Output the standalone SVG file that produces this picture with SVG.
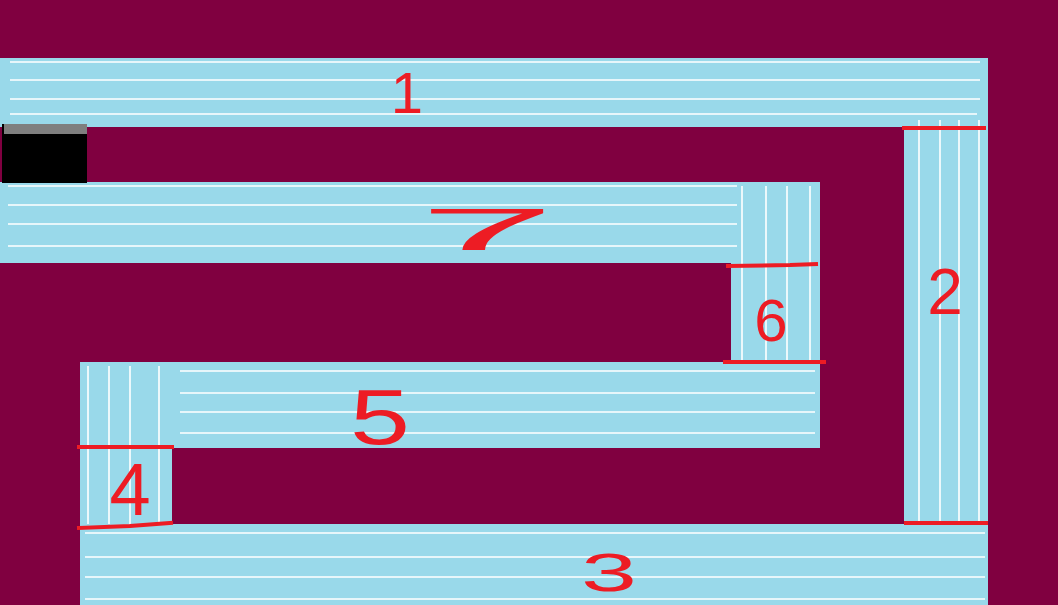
<svg xmlns="http://www.w3.org/2000/svg" width="1058" height="605" viewBox="0 0 1058 605">
<style>
.path{fill:#99d9ea}
.tex{stroke:#ffffff;stroke-width:1.6;fill:none}
.red{stroke:#ed1c24;stroke-width:4;fill:none;stroke-linecap:square}
.num{fill:#ed1c24;font-family:"Liberation Sans",Arial,sans-serif;text-anchor:middle}
</style>
<rect x="0" y="0" width="1058" height="605" fill="#800040"/>
<g id="track">
<rect class="path" x="0" y="58" width="988" height="69"/>
<rect class="path" x="904" y="58" width="84" height="466"/>
<rect class="path" x="80" y="524" width="908" height="81"/>
<rect class="path" x="80" y="362" width="92" height="164"/>
<rect class="path" x="80" y="362" width="740" height="86"/>
<rect class="path" x="731" y="182" width="89" height="180"/>
<rect class="path" x="0" y="182" width="820" height="81"/>
</g>
<g id="texture">
<path class="tex" d="M10 62H980M10 80H980M10 99H980M10 114H977"/>
<path class="tex" d="M919 120V522M940 120V522M959 120V522M979 120V522"/>
<path class="tex" d="M85 533H985M85 557H985M85 577H985M85 599H985"/>
<path class="tex" d="M88 366V524M109 366V524M130 366V524M159 366V524"/>
<path class="tex" d="M180 371H815M180 393H815M180 412H815M180 433H815"/>
<path class="tex" d="M742 186V360M766 186V360M787 186V360M810 186V360"/>
<path class="tex" d="M8 186H737M8 205H737M8 224H737M8 246H737"/>
</g>
<g id="start-box">
<rect x="2" y="124" width="85" height="59" fill="#000000"/>
<rect x="4" y="124" width="83" height="10" fill="#7f7f7f"/>
</g>
<g id="section-lines">
<path class="red" d="M904 128H984"/>
<path class="red" d="M906 523H986"/>
<path class="red" d="M728 266L790 265L816 264"/>
<path class="red" d="M725 362H824"/>
<path class="red" d="M79 447H172"/>
<path class="red" d="M79 528L130 526L171 523"/>
</g>
<g id="labels">
<text class="num" x="407" y="113" font-size="58">1</text>
<text class="num" x="945" y="314" font-size="64">2</text>
<text class="num" x="609" y="591" font-size="54" textLength="56" lengthAdjust="spacingAndGlyphs">3</text>
<text class="num" x="130" y="515" font-size="74">4</text>
<text class="num" x="380" y="444" font-size="78" textLength="60" lengthAdjust="spacingAndGlyphs">5</text>
<text class="num" x="771" y="341" font-size="60">6</text>
<text class="num" x="487" y="250" font-size="60" textLength="137" lengthAdjust="spacingAndGlyphs">7</text>
</g>
</svg>
